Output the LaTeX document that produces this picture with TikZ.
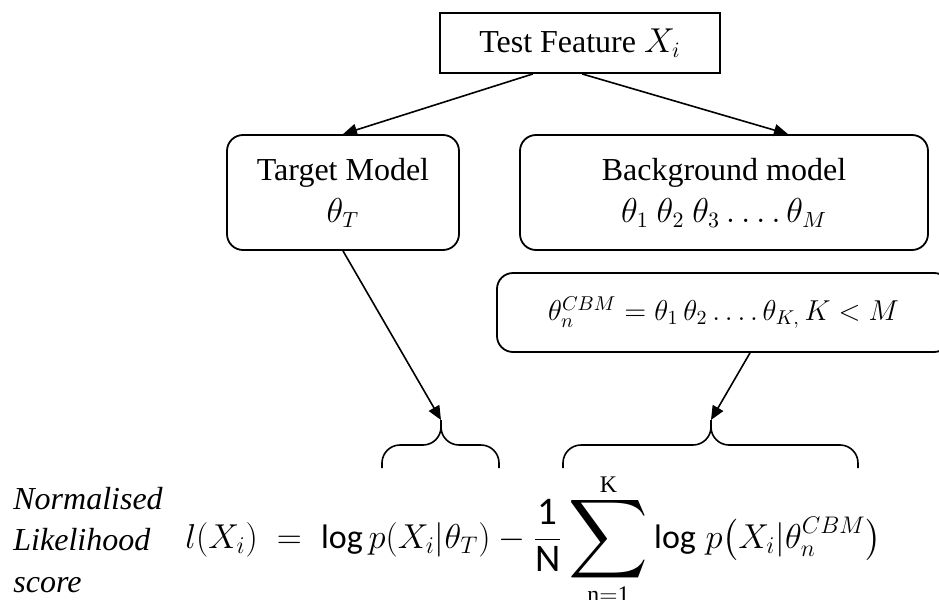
\documentclass[tikz,border=0pt]{standalone}
\usepackage{amsmath}
\usepackage{graphicx}
\usepackage{fontspec}
\setmainfont{Liberation Serif}
\setsansfont{Carlito}
\usetikzlibrary{arrows.meta,positioning,calc}

% sum with tight limits
\newcommand{\sumKn}{\mathop{\vcenter{\offinterlineskip\halign{\hfil##\hfil\cr
  $\scriptstyle\mathrm{K}$\cr\noalign{\kern1.5pt}
  \scalebox{1.6}{$\displaystyle\sum$}\cr\noalign{\kern1.5pt}
  $\scriptstyle\mathrm{n}=\mathrm{1}$\cr}}}}

\begin{document}
\begin{tikzpicture}[
  x=0.5pt, y=-0.5pt,
  font=\fontsize{16}{19}\selectfont,
  featbox/.style={draw, line width=0.9pt, minimum width=140pt, minimum height=30pt, inner sep=0pt},
  model/.style={draw, line width=0.9pt, rounded corners=8pt, align=center,
                minimum height=57.5pt, inner sep=0pt},
  arr/.style={-{Triangle[length=7pt,width=6pt]}, line width=0.8pt},
  brc/.style={line width=0.8pt, rounded corners=9pt},
]
\useasboundingbox (0,0) rectangle (939,600);
\clip (0,0) rectangle (939,600);

\node[featbox] (test) at (580,43) {Test Feature $X_i$};
\node[model, minimum width=116pt] (target) at (343,192.5) {Target Model\\[2pt]$\theta_T$};
\node[model, minimum width=204pt] (bg) at (724,192.5)
  {Background model\\[2pt]$\theta_1\ \theta_2\ \theta_3 \ldots.\,\theta_M$};
\node[model, minimum width=226.5pt, minimum height=39.5pt,
      font=\fontsize{14.5}{17}\selectfont] (cbm) at (723.5,312.5)
  {$\theta_n^{CBM} = \theta_1\,\theta_2 \ldots.\,\theta_{K,}\,K < M$};

% brace tips
\coordinate (tipT) at (441,420);
\coordinate (tipB) at (711,420);

\draw[arr] ([xshift=-23.5pt]test.south) -- (target.north);
\draw[arr] ([xshift=1pt]test.south) -- ([xshift=32pt]bg.north);
\draw[arr] (target.south) -- (tipT);
\draw[arr] ([xshift=13.25pt]cbm.south) -- (tipB);

% braces over the two terms
\draw[brc] (382,468) -- (382,445) -- (441,445) -- (tipT);
\draw[brc] (tipT) -- (441,445) -- (499,445) -- (499,468);
\draw[brc] (563,468) -- (563,445) -- (711,445) -- (tipB);
\draw[brc] (tipB) -- (711,445) -- (858,445) -- (858,468);

\node[anchor=west, align=left, inner sep=0pt,
      font=\fontsize{16}{20.75}\selectfont\itshape] (lbl) at (13,540)
  {Normalised\\Likelihood\\score};
\node[anchor=base west, inner sep=0pt, font=\fontsize{17}{20}\selectfont] (score) at (185,548)
  {$\displaystyle l(X_i) \;=\; \mathsf{log}\,p(X_i|\theta_T) -
   \frac{\scalebox{1.15}{$\mathsf{1}$}}{\scalebox{1.15}{$\mathsf{N}$}}
   \sumKn \mathsf{log}\;p\bigl(X_i|\theta_n^{CBM}\bigr)$};
\end{tikzpicture}
\end{document}
